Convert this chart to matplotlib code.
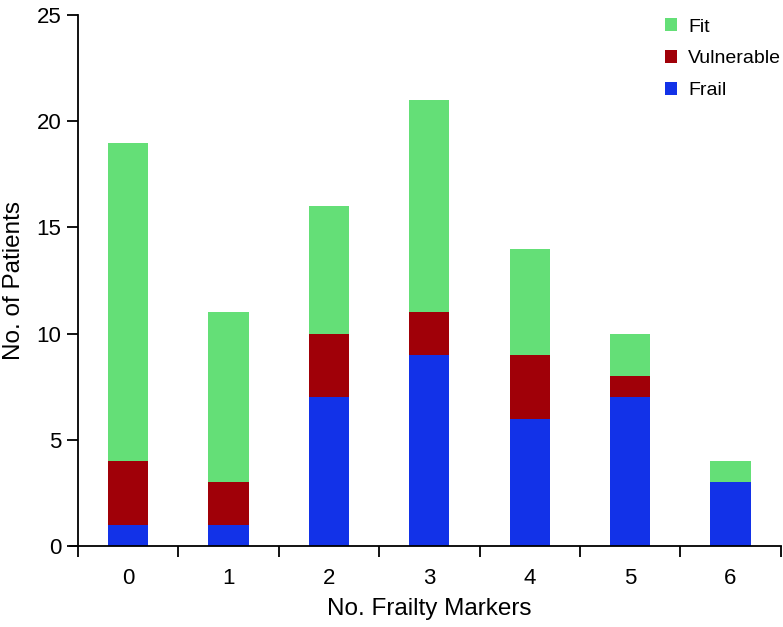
import matplotlib
matplotlib.use("Agg")
import matplotlib.pyplot as plt
import numpy as np

plt.rcParams['font.family'] = ['Liberation Sans', 'DejaVu Sans']

categories = ['0', '1', '2', '3', '4', '5', '6']
frail = [1, 1, 7, 9, 6, 7, 3]
vulnerable = [3, 2, 3, 2, 3, 1, 0]
fit = [15, 8, 6, 10, 5, 2, 1]

c_fit = '#64DF77'
c_vul = '#A00008'
c_frail = '#1232E8'

fig = plt.figure(figsize=(7.83, 6.27), dpi=100)
ax = fig.add_axes([0.0996, 0.129, 0.8974, 0.847])

x = np.arange(len(categories))
frail_a = np.array(frail)
vul_a = np.array(vulnerable)
fit_a = np.array(fit)
w = 0.4
ax.bar(x, frail_a, w, color=c_frail, label='Frail', linewidth=0)
ax.bar(x, vul_a, w, bottom=frail_a, color=c_vul, label='Vulnerable', linewidth=0)
ax.bar(x, fit_a, w, bottom=frail_a + vul_a, color=c_fit, label='Fit', linewidth=0)

ax.set_xlim(-0.5, 6.5)
ax.set_ylim(0, 25)
ax.set_yticks([0, 5, 10, 15, 20, 25])
ax.set_xticks(x)
ax.set_xticklabels(categories)
ax.set_xticks(np.arange(-0.5, 7.0, 1.0), minor=True)
ax.tick_params(axis='x', which='major', length=0, pad=16, labelsize=16)
ax.tick_params(axis='x', which='minor', length=8, width=1.3, direction='out')
ax.tick_params(axis='y', length=8, width=1.3, direction='out', pad=4, labelsize=16)

for s in ['top', 'right']:
    ax.spines[s].set_visible(False)
ax.spines['left'].set_linewidth(1.3)
ax.spines['bottom'].set_linewidth(1.3)
ax.spines['bottom'].set_bounds(-0.58, 6.5)

ax.set_xlabel('No. Frailty Markers', fontsize=17.5, labelpad=6)
ax.set_ylabel('No. of Patients', fontsize=17.5, labelpad=8)

handles, labels = ax.get_legend_handles_labels()
leg = ax.legend(handles[::-1], labels[::-1], loc='upper left',
                bbox_to_anchor=(647 / 783, 1 - 1 / 627), bbox_transform=fig.transFigure,
                frameon=False, fontsize=14, handlelength=0.62, handleheight=0.62,
                handletextpad=0.6, labelspacing=0.75)

fig.savefig('out.png', dpi=100)
